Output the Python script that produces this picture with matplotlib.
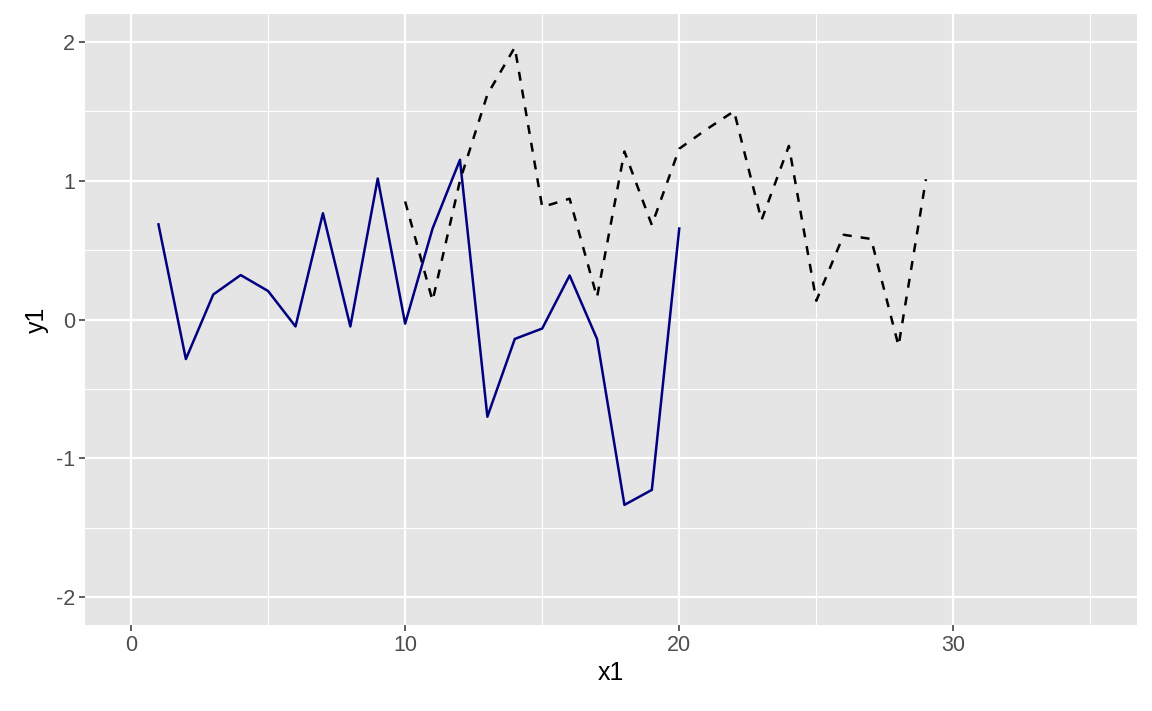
import matplotlib
matplotlib.use("Agg")
import matplotlib.pyplot as plt
from matplotlib.ticker import MultipleLocator

plt.rcParams["font.family"] = ["Liberation Sans", "DejaVu Sans"]
plt.rcParams["axes.unicode_minus"] = False

# solid navy series
x_solid = list(range(1, 21))
y_solid = [0.685, -0.285, 0.18, 0.32, 0.205, -0.05, 0.765, -0.05, 1.015, -0.03,
           0.655, 1.15, -0.70, -0.14, -0.065, 0.317, -0.14, -1.335, -1.227, 0.655]

# dashed black series
x_dash = list(range(10, 30))
y_dash = [0.85, 0.135, 1.0, 1.62, 1.96, 0.81, 0.87, 0.16, 1.21, 0.68,
          1.23, 1.37, 1.50, 0.715, 1.25, 0.135, 0.61, 0.58, -0.19, 1.01]

W, H = 1152, 711
fig = plt.figure(figsize=(W / 100, H / 100), dpi=100, facecolor="white")
ax = fig.add_axes([85 / W, 1 - 625 / H, (1137 - 85) / W, (625 - 14) / H])
ax.set_facecolor("#E5E5E5")

ax.set_xlim(-1.68, 36.7)
ax.set_ylim(-2.2, 2.2)
ax.xaxis.set_major_locator(MultipleLocator(10))
ax.xaxis.set_minor_locator(MultipleLocator(5))
ax.yaxis.set_major_locator(MultipleLocator(1))
ax.yaxis.set_minor_locator(MultipleLocator(0.5))

ax.grid(which="major", color="white", linewidth=1.6)
ax.grid(which="minor", color="white", linewidth=0.8)
ax.set_axisbelow(True)
for s in ax.spines.values():
    s.set_visible(False)

ax.tick_params(which="major", length=4.5, width=1.1, color="#333333",
               labelcolor="#4D4D4D", labelsize=15.5, pad=2.5)
ax.tick_params(which="minor", length=0)

ax.plot(x_solid, y_solid, color="#000080", linewidth=1.8)
ax.plot(x_dash, y_dash, color="black", linewidth=1.8, linestyle=(0, (3.6, 3.6)))

ax.set_xlabel("x1", fontsize=18, labelpad=4)
ax.set_ylabel("y1", fontsize=18, labelpad=5)

fig.savefig("out.png", dpi=100, facecolor="white")
